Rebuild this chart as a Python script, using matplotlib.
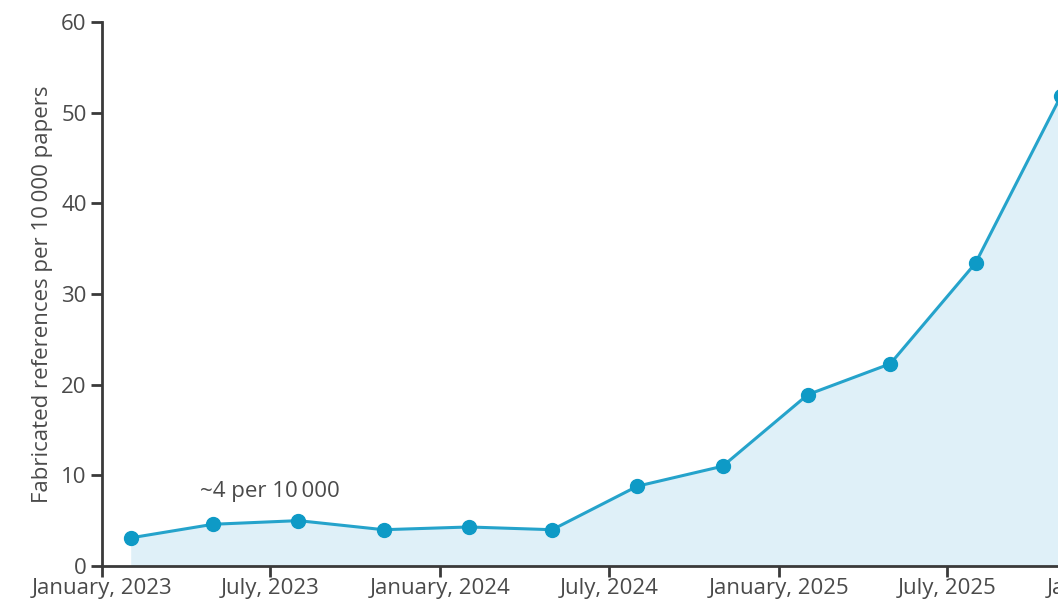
import numpy as np
import pandas as pd
import matplotlib
matplotlib.use("Agg")
import matplotlib.pyplot as plt
import matplotlib.dates as mdates

# quarterly estimates, plotted at the month after each quarter start
dates = pd.to_datetime(["2023-02-01", "2023-05-01", "2023-08-01", "2023-11-01",
                        "2024-02-01", "2024-05-01", "2024-08-01", "2024-11-01",
                        "2025-02-01", "2025-05-01", "2025-08-01", "2025-11-01"])
rate = [3.1, 4.6, 5.0, 4.0, 4.3, 4.0, 8.8, 11.0, 18.9, 22.3, 33.4, 51.8]

tick_dates = pd.to_datetime(["2023-01-01", "2023-07-01", "2024-01-01", "2024-07-01",
                             "2025-01-01", "2025-07-01", "2026-01-01"])
tick_labels = ["January, 2023", "July, 2023", "January, 2024", "July, 2024",
               "January, 2025", "July, 2025", "January, 2026"]

plt.rcParams['font.family'] = ['Open Sans', 'DejaVu Sans']
grey = '#4a4a4a'
line_col = '#25a3cb'
dot_col = '#0e9ac6'
fill_col = '#dff0f8'

fig = plt.figure(figsize=(10.58, 6.12), dpi=100)
ax = fig.add_axes([0.0964, 0.0752, 0.999, 0.889])

ax.fill_between(dates, rate, 0, color=fill_col, lw=0)
ax.plot(dates, rate, color=line_col, lw=2.2, marker='o', ms=10,
        mfc=dot_col, mec=dot_col, clip_on=False)

ax.set_xlim(pd.Timestamp("2023-01-01"), pd.Timestamp("2026-02-15"))
ax.set_ylim(0, 60)
ax.set_xticks(tick_dates)
ax.set_xticklabels(tick_labels)
ax.set_yticks([0, 10, 20, 30, 40, 50, 60])

for s in ['top', 'right']:
    ax.spines[s].set_visible(False)
for s in ['left', 'bottom']:
    ax.spines[s].set_color('#3a3a3a')
    ax.spines[s].set_linewidth(2)
ax.tick_params(colors='#3a3a3a', width=2, length=8, labelsize=16,
               labelcolor=grey)
ax.tick_params(axis='x', pad=1)
ax.tick_params(axis='y', pad=3)

ax.set_ylabel("Fabricated references per 10\u2009000 papers", fontsize=16,
              color=grey, labelpad=6)
ax.text(pd.Timestamp("2023-07-01"), 8.2, "~4 per 10\u2009000", ha='center',
        va='center', fontsize=16, color=grey)

fig.savefig("out.png", dpi=100)
